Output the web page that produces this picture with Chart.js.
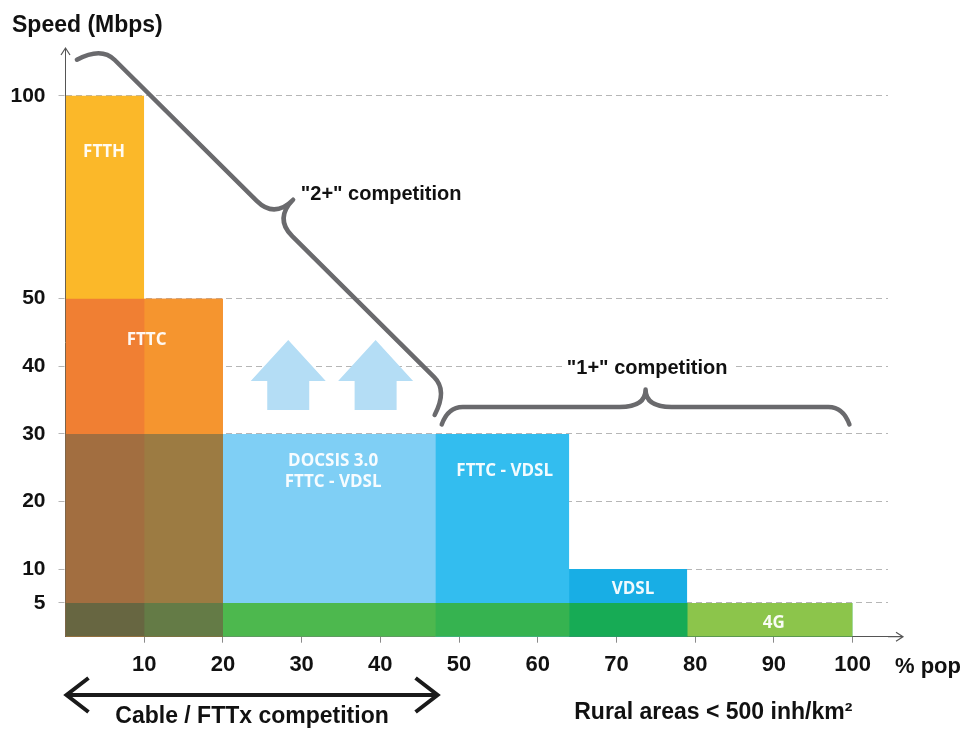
<!DOCTYPE html>
<html>
<head>
<meta charset="utf-8">
<title>Broadband speed by population coverage</title>
<script src="https://cdn.jsdelivr.net/npm/chart.js@4.4.1/dist/chart.umd.min.js"></script>
<style>
  html, body { margin: 0; padding: 0; background: #fff; }
  #wrap { width: 963px; height: 729px; }
</style>
</head>
<body>
<div id="wrap"><canvas id="speed-chart" width="963" height="729"></canvas></div>
<script>
// population slices (% pop) and the top speed (Mbps) each service band reaches in each slice
const popEdges = [0, 10, 20, 47, 64, 79, 100];
const ftthSpeed = [100, null, null, null, null, null];
const fttcSpeed = [50, 50, null, null, null, null];
const fixedSpeed = [30, 30, 30, 30, 10, null];   // DOCSIS 3.0 / FTTC - VDSL / VDSL
const mobileSpeed = [5, 5, 5, 5, 5, 5];          // 4G
const speedTicks = [5, 10, 20, 30, 40, 50, 100];
const popTicks = [10, 20, 30, 40, 50, 60, 70, 80, 90, 100];

const SANS = '"Liberation Sans", Arial, sans-serif';
const BAND_FONT = '"Open Sans", "Liberation Sans", sans-serif';

// the speed axis bends at 50 Mbps, everything above is squeezed
const SPEED_BREAK = 50;
const UPPER_SQUEEZE = 0.6;

class SpeedScale extends Chart.LinearScale {
  static id = 'speed';
  static defaults = Chart.LinearScale.defaults;
  squeeze(v) { return v <= SPEED_BREAK ? v : SPEED_BREAK + (v - SPEED_BREAK) * UPPER_SQUEEZE; }
  unsqueeze(t) { return t <= SPEED_BREAK ? t : SPEED_BREAK + (t - SPEED_BREAK) / UPPER_SQUEEZE; }
  getPixelForValue(v) {
    if (v === null || v === undefined) return NaN;
    const lo = this.squeeze(this.min), hi = this.squeeze(this.max);
    return this.getPixelForDecimal((this.squeeze(v) - lo) / (hi - lo));
  }
  getValueForPixel(p) {
    const lo = this.squeeze(this.min), hi = this.squeeze(this.max);
    return this.unsqueeze(lo + this.getDecimalForPixel(p) * (hi - lo));
  }
}
Chart.register(SpeedScale);

const layers = [
  { speeds: ftthSpeed, colors: ['#FBB829'] },
  { speeds: fttcSpeed, colors: ['#F07F33', '#F5952F'] },
  { speeds: fixedSpeed, colors: ['#A26E40', '#9C7B42', '#7FCFF5', '#33BDEF', '#18AEE5'] },
  { speeds: mobileSpeed, colors: ['#676641', '#647B46', '#4DB84E', '#36B350', '#17AB55', '#8CC54B'] }
];

const datasets = [];
layers.forEach((layer, li) => {
  const sp = layer.speeds;
  sp.forEach((s, i) => {
    if (s === null) return;
    // slip under taller (or equal) neighbours so no hairline seam shows between slices
    const prev = sp[i - 1], next = sp[i + 1];
    const start = (prev !== undefined && prev !== null && prev > s) ? popEdges[i - 1] : popEdges[i];
    const end = (next !== undefined && next !== null && next >= s) ? popEdges[i + 2] : popEdges[i + 1];
    datasets.push({
      data: [{ x: start, y: s }, { x: popEdges[i], y: s }, { x: popEdges[i + 1], y: s }, { x: end, y: s }],
      backgroundColor: layer.colors[i],
      borderColor: layer.colors[i],
      borderWidth: 0,
      pointRadius: 0,
      tension: 0,
      fill: 'origin',
      // taller bands underneath; inside a band short slices first, then left to right
      order: (layers.length - li) * 1000 + (200 - s) + (9 - i) * 0.1
    });
  });
});

const bandText = [
  { lines: ['FTTH'], x: 4.9, y: 86.3 },
  { lines: ['FTTC'], x: 10.3, y: 44 },
  { lines: ['DOCSIS 3.0', 'FTTC - VDSL'], x: 34, y: 24.6 },
  { lines: ['FTTC - VDSL'], x: 55.8, y: 24.7 },
  { lines: ['VDSL'], x: 72.1, y: 7.2 },
  { lines: ['4G'], x: 90, y: 2.2 }
];

function drawBrace(ctx, x0, y0, x1, y1, h, r, c) {
  const L = Math.hypot(x1 - x0, y1 - y0);
  const m = L / 2;
  ctx.save();
  ctx.translate(x0, y0);
  ctx.rotate(Math.atan2(y1 - y0, x1 - x0));
  ctx.beginPath();
  ctx.moveTo(0, 0);
  ctx.quadraticCurveTo(r * 0.3, -h, r, -h);
  ctx.lineTo(m - c, -h);
  ctx.quadraticCurveTo(m, -h, m, -2 * h);
  ctx.quadraticCurveTo(m, -h, m + c, -h);
  ctx.lineTo(L - r, -h);
  ctx.quadraticCurveTo(L - r * 0.3, -h, L, 0);
  ctx.stroke();
  ctx.restore();
}

const decorations = {
  id: 'decorations',
  beforeDatasetsDraw(chart) {
    const { ctx, scales: { x, y } } = chart;
    ctx.save();
    ctx.fillStyle = '#B4DDF5';
    [28.3, 39.4].forEach(p => {
      const cx = x.getPixelForValue(p);
      const top = y.getPixelForValue(43.9);
      ctx.beginPath();
      ctx.moveTo(cx, top);
      ctx.lineTo(cx + 37.5, top + 41);
      ctx.lineTo(cx + 21, top + 41);
      ctx.lineTo(cx + 21, top + 70);
      ctx.lineTo(cx - 21, top + 70);
      ctx.lineTo(cx - 21, top + 41);
      ctx.lineTo(cx - 37.5, top + 41);
      ctx.closePath();
      ctx.fill();
    });
    ctx.restore();
  },
  afterDraw(chart) {
    const { ctx, chartArea, scales: { x, y } } = chart;
    ctx.save();

    // axis arrow heads
    ctx.strokeStyle = '#555';
    ctx.lineWidth = 1.2;
    ctx.beginPath();
    ctx.moveTo(chartArea.left - 4.5, chartArea.top + 7);
    ctx.lineTo(chartArea.left, chartArea.top);
    ctx.lineTo(chartArea.left + 4.5, chartArea.top + 7);
    ctx.moveTo(chartArea.right, chartArea.bottom);
    ctx.lineTo(903, chartArea.bottom);
    ctx.moveTo(896, chartArea.bottom - 4.5);
    ctx.lineTo(903, chartArea.bottom);
    ctx.lineTo(896, chartArea.bottom + 4.5);
    ctx.stroke();

    // labels inside the bands
    ctx.fillStyle = 'rgba(255,255,255,0.94)';
    ctx.font = 'bold 17px ' + BAND_FONT;
    ctx.textAlign = 'center';
    ctx.textBaseline = 'alphabetic';
    bandText.forEach(b => {
      const cx = x.getPixelForValue(b.x);
      const cy = y.getPixelForValue(b.y);
      const y0 = cy - (b.lines.length - 1) * 21.5 / 2;
      b.lines.forEach((t, i) => ctx.fillText(t, cx, y0 + i * 21.5 + 6));
    });

    // braces
    ctx.strokeStyle = '#6A6A6D';
    ctx.lineWidth = 4.5;
    ctx.lineCap = 'round';
    ctx.lineJoin = 'round';
    drawBrace(ctx, x.getPixelForValue(1.45), y.getPixelForValue(108.9),
              x.getPixelForValue(46.9), y.getPixelForValue(32.8), 26.5, 27, 25);
    drawBrace(ctx, x.getPixelForValue(47.8), y.getPixelForValue(31.4),
              x.getPixelForValue(99.6), y.getPixelForValue(31.4), 17.5, 21, 26);

    // brace captions
    ctx.font = 'bold 20px ' + SANS;
    ctx.fillStyle = '#111';
    ctx.textAlign = 'center';
    ctx.fillText('"2+" competition', x.getPixelForValue(40.1), 199.5);
    const oneX = x.getPixelForValue(73.9);
    ctx.fillStyle = '#fff';
    ctx.fillRect(oneX - 85, 355, 170, 24);
    ctx.fillStyle = '#111';
    ctx.fillText('"1+" competition', oneX, 373.5);

    // titles
    ctx.font = 'bold 23px ' + SANS;
    ctx.textAlign = 'left';
    ctx.fillText('Speed (Mbps)', 12, 31.5);
    ctx.font = 'bold 22px ' + SANS;
    ctx.fillText('% pop', 895, 673);
    ctx.font = 'bold 23px ' + SANS;
    ctx.textAlign = 'center';
    ctx.fillText('Cable / FTTx competition', x.getPixelForValue(23.7), 723);
    ctx.fillText('Rural areas < 500 inh/km\u00B2', x.getPixelForValue(82.3), 718.5);

    // double arrow under the cable zone
    const a0 = x.getPixelForValue(0), a1 = x.getPixelForValue(47.4), ay = 695;
    ctx.strokeStyle = '#1a1a1a';
    ctx.lineWidth = 4;
    ctx.lineCap = 'butt';
    ctx.lineJoin = 'miter';
    ctx.beginPath();
    ctx.moveTo(a0 + 2, ay);
    ctx.lineTo(a1 - 2, ay);
    ctx.moveTo(a0 + 23, ay - 17);
    ctx.lineTo(a0 + 1, ay);
    ctx.lineTo(a0 + 23, ay + 17);
    ctx.moveTo(a1 - 23, ay - 17);
    ctx.lineTo(a1 - 1, ay);
    ctx.lineTo(a1 - 23, ay + 17);
    ctx.stroke();

    ctx.restore();
  }
};

new Chart(document.getElementById('speed-chart'), {
  type: 'line',
  data: { datasets: datasets },
  options: {
    responsive: false,
    animation: false,
    layout: { padding: { top: 48, right: 75, left: 0, bottom: 0 } },
    plugins: {
      legend: { display: false },
      tooltip: { enabled: false }
    },
    scales: {
      x: {
        type: 'linear',
        min: 0,
        max: 104.5,
        z: 1,
        afterBuildTicks: s => { s.ticks = popTicks.map(v => ({ value: v })); },
        afterFit: s => { s.height = 92.3; },
        grid: { drawOnChartArea: false, tickLength: 6, color: '#8a8a8a' },
        border: { color: '#555', width: 1 },
        ticks: {
          padding: 9,
          color: '#111',
          maxRotation: 0,
          autoSkip: false,
          font: { family: SANS, size: 22, weight: 'bold' }
        }
      },
      y: {
        type: 'speed',
        min: 0,
        max: 111.8,
        z: 1,
        afterBuildTicks: s => { s.ticks = speedTicks.map(v => ({ value: v })); },
        afterFit: s => { s.width = 65.5; },
        grid: {
          color: 'rgba(80,80,80,0.42)',
          tickLength: 7,
          tickColor: 'rgba(80,80,80,0.42)',
          tickBorderDash: [6, 4]
        },
        border: { color: '#555', width: 1, dash: [6, 4] },
        ticks: {
          padding: 13,
          color: '#111',
          autoSkip: false,
          font: { family: SANS, size: 21, weight: 'bold' }
        }
      }
    }
  },
  plugins: [decorations]
});
</script>
</body>
</html>
